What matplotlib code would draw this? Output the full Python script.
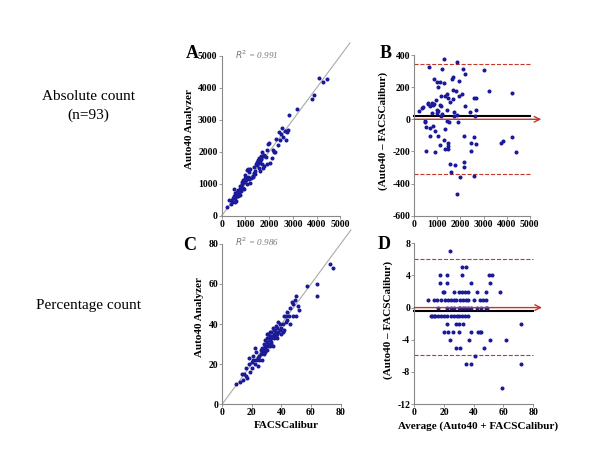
import matplotlib
matplotlib.use("Agg")
import matplotlib.pyplot as plt

plt.rcParams["font.family"] = ["Liberation Serif", "DejaVu Serif"]

# Panel A: absolute counts, FACSCalibur (x) vs Auto40 (y)
abs_facs = [230, 300, 380, 420, 450, 480, 500, 520, 550, 580, 600, 620, 650, 680,
            700, 720, 740, 760, 780, 800, 820, 850, 870, 900, 920, 950, 980, 1000,
            1020, 1050, 1080, 1100, 1150, 1180, 1200, 1250, 1300, 1350, 1400, 1420,
            1450, 1500, 1520, 1550, 1580, 1600, 1620, 1650, 1680, 1700, 1720, 1750,
            1780, 1800, 1850, 1900, 1950, 2000, 2050, 2100, 2150, 2200, 2250, 2300,
            2350, 2400, 2450, 2500, 2550, 2600, 2650, 2700, 2750, 2800, 2850, 3150,
            3800, 3900, 4100, 4250, 4450, 640, 880, 1120, 1320, 1480, 1560, 1640,
            1160, 760, 560, 1900, 1380]
abs_auto = [280, 480, 350, 500, 430, 560, 820, 620, 700, 540, 460, 680, 750, 800,
            620, 760, 700, 820, 660, 780, 900, 1060, 980, 1100, 820, 1050, 1180, 1280,
            1120, 1000, 1420, 1200, 1380, 1020, 1450, 1180, 1250, 1520, 1400, 1300,
            1600, 1680, 1750, 1480, 1800, 1700, 1400, 1780, 1600, 2000, 1500, 1850,
            1550, 1900, 1820, 2050, 2250, 2280, 1650, 1800, 2050, 1980, 2000, 2400,
            2200, 2600, 2350, 2550, 2750, 2450, 2650, 2380, 2600, 2680, 3150, 3330,
            3650, 3780, 4300, 4170, 4260, 600, 860, 1450, 1200, 1580, 1650, 1850,
            1150, 920, 430, 1600, 1330]

# Panel B: Bland-Altman, absolute counts
abs_avg = [216, 317, 390, 476, 505, 490, 664, 650, 700, 760, 800, 860, 700, 890,
           920, 980, 1096, 1025, 1040, 990, 1040, 905, 1110, 1180, 1170, 1175, 1140,
           1270, 1284, 1313, 1284, 1342, 1430, 1440, 1430, 1470, 1480, 1515, 1545,
           1545, 1600, 1660, 1650, 1660, 1690, 1717, 1746, 1804, 1833, 1862, 1876,
           1862, 1948, 1991, 2063, 2120, 2180, 2150, 2150, 2165, 2395, 2450, 2450,
           2570, 2670, 2570, 2600, 2640, 2685, 2655, 3030, 3245, 3737, 3850, 4243,
           4243, 4387, 600, 760, 1000, 1200, 1400, 1100, 1350, 850, 1700, 580, 1450,
           800, 1950, 2200, 450]
abs_diff = [54, 71, 75, -8, -46, -195, -54, 327, 80, 100, 90, 95, -105, -71,
            121, 232, 232, 200, 50, 40, -103, -205, -160, 314, 20, 80, 147,
            373, 228, -60, -130, -186, 160, 135, 57, -165, -188, -17, 105,
            -280, -330, 264, 250, 180, 126, 44, -287, 176, 354, 27, -19,
            -465, 142, -358, 159, 310, 279, -103, -266, -295, 48, -147, -200,
            134, 134, -109, -356, 19, 59, -153, 306, 178, -149, -138, -111,
            163, -203, 95, 40, 60, 30, -10, 90, 145, 250, 20, 100, -150,
            -40, 240, 80, -20]
abs_mean, abs_upper, abs_lower = 20, 345, -340

# Panel C: percentage counts
pct_facs = [9, 12, 13, 14, 15, 16, 16, 17, 18, 18, 19, 20, 21, 21, 22, 22, 23, 24,
            24, 25, 25, 26, 27, 27, 27, 28, 28, 29, 29, 30, 30, 30, 31, 31, 31, 32,
            32, 32, 33, 33, 33, 34, 34, 34, 35, 35, 36, 36, 37, 37, 38, 38, 39, 40,
            40, 41, 42, 42, 43, 44, 44, 45, 46, 46, 47, 48, 48, 49, 50, 50, 51, 52,
            57, 64, 64, 73, 75, 20, 23, 26, 28, 29, 30, 31, 32, 33, 35, 36, 37, 39,
            41, 43, 29]
pct_auto = [10, 11, 15, 12, 15, 18, 14, 13, 20, 23, 16, 21, 22, 24, 28, 20, 22, 19,
            23, 24, 22, 25, 26, 28, 22, 27, 25, 29, 28, 31, 27, 35, 30, 33, 29, 32,
            34, 36, 33, 31, 30, 34, 29, 38, 37, 35, 36, 39, 38, 33, 41, 36, 37, 35,
            38, 40, 37, 44, 41, 42, 46, 44, 40, 48, 51, 50, 44, 52, 54, 44, 49, 47,
            59, 60, 54, 70, 68, 18, 26, 27, 30, 32, 33, 35, 29, 36, 33, 34, 35, 40,
            36, 44, 26]

# Panel D: Bland-Altman, percentage counts
pct_avg = [24, 32, 35, 17, 22, 32, 50, 52, 17, 22, 38, 51,
           19, 20, 27, 30, 32, 34, 42, 48, 58,
           9, 13, 18, 21, 23, 25, 27, 28, 31, 33, 35, 36, 40, 44, 48,
           16, 22, 27, 30, 31, 33, 34, 36, 38, 45, 48, 49,
           11, 12, 13, 14, 16, 20, 22, 25, 29, 30, 32, 34, 36,
           22, 28, 30, 72, 20, 23, 26, 30, 38, 43, 44, 45,
           24, 37, 51, 62, 28, 31, 47, 41, 35, 38, 72, 59,
           15, 46, 25, 42, 18, 27, 36, 33]
pct_diff = [7, 5, 5, 4, 4, 4, 4, 4, 3, 3, 3, 3,
            2, 2, 2, 2, 2, 2, 2, 2, 2,
            1, 1, 1, 1, 1, 1, 1, 1, 1, 1, 1, 1, 1, 1, 1,
            0, 0, 0, 0, 0, 0, 0, 0, 0, 0, 0, 0,
            -1, -1, -1, -1, -1, -1, -1, -1, -1, -1, -1, -1, -1,
            -2, -2, -2, -2, -3, -3, -3, -3, -3, -3, -3, -3,
            -4, -4, -4, -4, -5, -5, -5, -6, -7, -7, -7, -10,
            1, 1, 0, 0, -1, -1, 2, -2]
pct_mean, pct_upper, pct_lower = -0.4, 6.0, -5.9

DOT = "#1a1a9a"
RED = "#c0392b"
TICKFONT = dict(fontsize=7, fontweight="bold")
LABELFONT = dict(fontsize=8, fontweight="bold")


def style_axis(ax, xticks, yticks):
    ax.spines["top"].set_visible(False)
    ax.spines["right"].set_visible(False)
    for s in ("left", "bottom"):
        ax.spines[s].set_color("#888888")
        ax.spines[s].set_linewidth(0.8)
    ax.spines["bottom"].set_bounds(xticks[0], xticks[-1])
    ax.spines["left"].set_bounds(yticks[0], yticks[-1])
    ax.set_xticks(xticks)
    ax.set_yticks(yticks)
    ax.set_xticklabels([str(t) for t in xticks], **TICKFONT)
    ax.set_yticklabels([str(t) for t in yticks], **TICKFONT)
    ax.tick_params(length=2, width=0.6, color="#888888", pad=1)


def scatter_panel(ax, x, y, lim, ticks, r2):
    ax.plot([0, lim], [0, lim], color="#aaaaaa", lw=0.8, clip_on=False)
    ax.plot(x, y, "o", ms=1.9, color=DOT, clip_on=False)
    ax.set_xlim(0, lim)
    ax.set_ylim(0, lim)
    style_axis(ax, ticks, ticks)
    ax.text(0.1, 0.93, r"$R^2$ = " + r2, transform=ax.transAxes, fontsize=6.5,
            style="italic", color="#777777", va="center")
    ax.set_ylabel("Auto40 Analyzer", labelpad=3, **LABELFONT)


def ba_panel(ax, x, y, mean, upper, lower, xlim, ylim, xticks, yticks):
    end = xticks[-1]
    ax.plot([0, end], [upper, upper], "--", color=RED, lw=0.8)
    ax.plot([0, end], [lower, lower], "--", color=RED, lw=0.8)
    ax.plot([0, end], [mean, mean], color="black", lw=1.5, clip_on=False)
    ax.annotate("", xy=(xlim, 0), xytext=(0, 0),
                arrowprops=dict(arrowstyle="->", color=RED, lw=1.0,
                                mutation_scale=10, shrinkA=0, shrinkB=0),
                annotation_clip=False)
    ax.plot(x, y, "o", ms=1.9, color=DOT, clip_on=False)
    ax.set_xlim(0, xlim)
    ax.set_ylim(yticks[0], ylim)
    style_axis(ax, xticks, yticks)
    ax.set_ylabel("(Auto40 \u2013 FACSCalibur)", labelpad=3, **LABELFONT)


fig = plt.figure(figsize=(6, 4.5), dpi=100)

axA = fig.add_axes([0.3695, 0.5207, 0.2138, 0.384])
scatter_panel(axA, abs_facs, abs_auto, 5400, list(range(0, 5001, 1000)), "0.991")

axB = fig.add_axes([0.6905, 0.5207, 0.2117, 0.3749])
ba_panel(axB, abs_avg, abs_diff, abs_mean, abs_upper, abs_lower, 5500, 450,
         list(range(0, 5001, 1000)), list(range(-600, 401, 200)))

axC = fig.add_axes([0.3705, 0.1022, 0.2143, 0.3867])
scatter_panel(axC, pct_facs, pct_auto, 87, list(range(0, 81, 20)), "0.986")
axC.set_xlabel("FACSCalibur", labelpad=3, **LABELFONT)

axD = fig.add_axes([0.6905, 0.1022, 0.2128, 0.375])
ba_panel(axD, pct_avg, pct_diff, pct_mean, pct_upper, pct_lower, 86, 9,
         list(range(0, 81, 20)), list(range(-12, 9, 4)))
axD.set_xlabel("Average (Auto40 + FACSCalibur)", labelpad=3, **LABELFONT)

# panel letters
for letter, (px, py) in zip("ABCD", [(192, 54), (386, 54), (190, 246), (384, 244)]):
    fig.text(px / 600, 1 - py / 450, letter, fontsize=13, fontweight="bold",
             ha="center", va="center")

# row labels
fig.text(88 / 600, 1 - 96 / 450, "Absolute count", fontsize=11, ha="center", va="center")
fig.text(88 / 600, 1 - 115 / 450, "(n=93)", fontsize=11, ha="center", va="center")
fig.text(88 / 600, 1 - 305 / 450, "Percentage count", fontsize=11, ha="center", va="center")

fig.savefig("out.png", dpi=100)
